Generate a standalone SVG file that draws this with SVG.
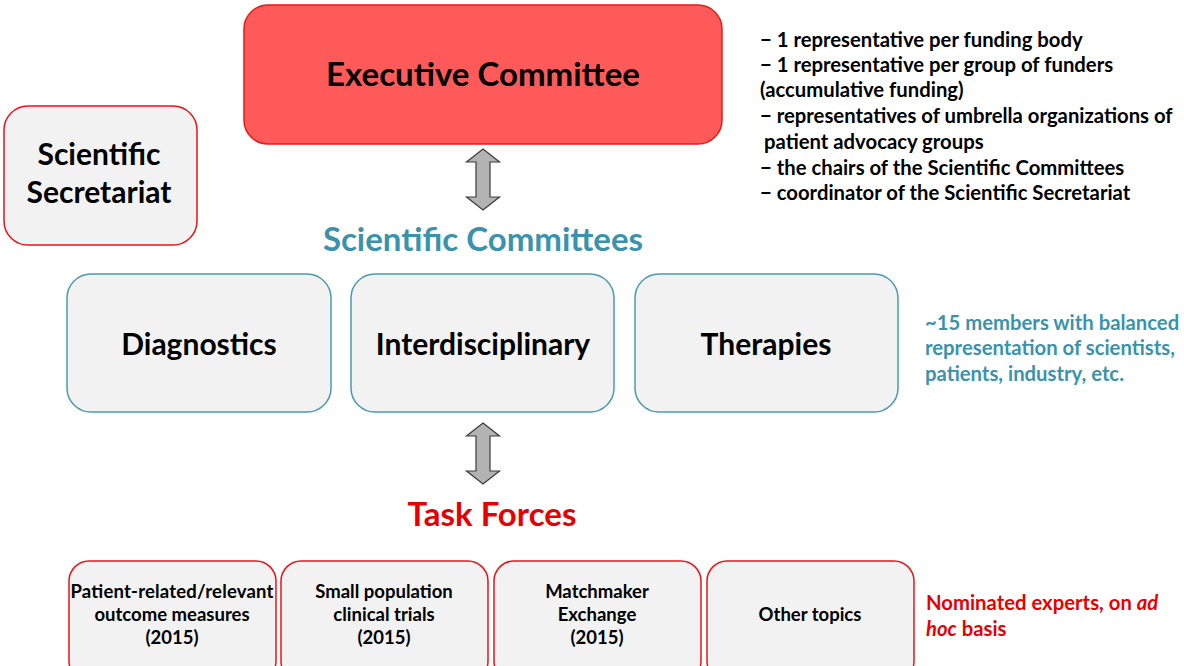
<svg xmlns="http://www.w3.org/2000/svg" width="1184" height="666" viewBox="0 0 1184 666">
  <style>
    text { font-family: Lato, "Liberation Sans", sans-serif; font-weight: bold; }
    .box-grey { fill: #F2F2F2; }
    .red-edge { stroke: #E8141A; stroke-width: 1.5; }
    .teal-edge { stroke: #4A9AB2; stroke-width: 1.5; }
    .big { font-size: 33px; fill: #000; text-anchor: middle; }
    .mid { font-size: 30px; fill: #000; text-anchor: middle; }
    .small { font-size: 18.5px; fill: #000; text-anchor: middle; }
    .list { font-size: 20.3px; fill: #000; }
    .teal { fill: #3A93AB; }
    .red { fill: #E80000; }
    .arrow { fill: #B3B3B3; stroke: #3C3C3C; stroke-width: 1.2; stroke-linejoin: miter; }
  </style>
  <defs>
    <!-- double-headed block arrow, centred on x=0, spans y=0..61 -->
    <path id="dbl-arrow" d="M0,0 L16.5,13 L7,13 L7,48 L16.5,48 L0,61 L-16.5,48 L-7,48 L-7,13 L-16.5,13 Z"/>
  </defs>

  <rect width="1184" height="666" fill="#FFFFFF"/>

  <g id="executive-committee">
    <rect x="244" y="5" width="478" height="139" rx="24" fill="#FF5A5A" stroke="#E41B1B" stroke-width="1.5"/>
    <text class="big" x="483" y="86">Executive Committee</text>
  </g>

  <g id="executive-members">
    <text class="list" x="760" y="47">− 1 representative per funding body</text>
    <text class="list" x="760" y="72">− 1 representative per group of funders</text>
    <text class="list" x="760" y="97">(accumulative funding)</text>
    <text class="list" x="760" y="123">− representatives of umbrella organizations of</text>
    <text class="list" x="764" y="149">patient advocacy groups</text>
    <text class="list" x="760" y="175">− the chairs of the Scientific Committees</text>
    <text class="list" x="760" y="200">− coordinator of the Scientific Secretariat</text>
  </g>

  <g id="scientific-secretariat">
    <rect class="box-grey red-edge" x="4" y="106" width="193" height="139" rx="24"/>
    <text class="mid" x="99" y="165">Scientific</text>
    <text class="mid" x="99" y="203">Secretariat</text>
  </g>

  <g id="scientific-committees-title">
    <text class="big teal" x="483" y="251">Scientific Committees</text>
  </g>

  <g id="diagnostics">
    <rect class="box-grey teal-edge" x="67" y="274" width="264" height="138" rx="24"/>
    <text class="mid" x="199" y="355">Diagnostics</text>
  </g>

  <g id="interdisciplinary">
    <rect class="box-grey teal-edge" x="351" y="274" width="263" height="138" rx="24"/>
    <text class="mid" x="483" y="355">Interdisciplinary</text>
  </g>

  <g id="therapies">
    <rect class="box-grey teal-edge" x="635" y="274" width="263" height="138" rx="24"/>
    <text class="mid" x="766" y="355">Therapies</text>
  </g>

  <g id="committee-note">
    <text class="list teal" x="925" y="330">~15 members with balanced</text>
    <text class="list teal" x="925" y="355">representation of scientists,</text>
    <text class="list teal" x="925" y="381">patients, industry, etc.</text>
  </g>

  <g id="task-forces-title">
    <text class="big red" x="492" y="526">Task Forces</text>
  </g>

  <g id="tf-outcome-measures">
    <rect class="box-grey red-edge" x="69" y="561" width="207" height="120" rx="20"/>
    <text class="small" x="172" y="598" textLength="203" lengthAdjust="spacing">Patient-related/relevant</text>
    <text class="small" x="172" y="621">outcome measures</text>
    <text class="small" x="172" y="644">(2015)</text>
  </g>

  <g id="tf-clinical-trials">
    <rect class="box-grey red-edge" x="281" y="561" width="207" height="120" rx="20"/>
    <text class="small" x="384" y="598">Small population</text>
    <text class="small" x="384" y="621">clinical trials</text>
    <text class="small" x="384" y="644">(2015)</text>
  </g>

  <g id="tf-matchmaker">
    <rect class="box-grey red-edge" x="494" y="561" width="207" height="120" rx="20"/>
    <text class="small" x="597" y="598">Matchmaker</text>
    <text class="small" x="597" y="621">Exchange</text>
    <text class="small" x="597" y="644">(2015)</text>
  </g>

  <g id="tf-other">
    <rect class="box-grey red-edge" x="707" y="561" width="207" height="120" rx="20"/>
    <text class="small" x="810" y="621">Other topics</text>
  </g>

  <g id="task-force-note">
    <text class="list red" x="926" y="610">Nominated experts, on <tspan font-style="italic">ad</tspan></text>
    <text class="list red" x="926" y="636"><tspan font-style="italic">hoc</tspan> basis</text>
  </g>

  <g id="connectors">
    <use href="#dbl-arrow" class="arrow" x="483" y="149"/>
    <use href="#dbl-arrow" class="arrow" x="483" y="423"/>
  </g>
</svg>
